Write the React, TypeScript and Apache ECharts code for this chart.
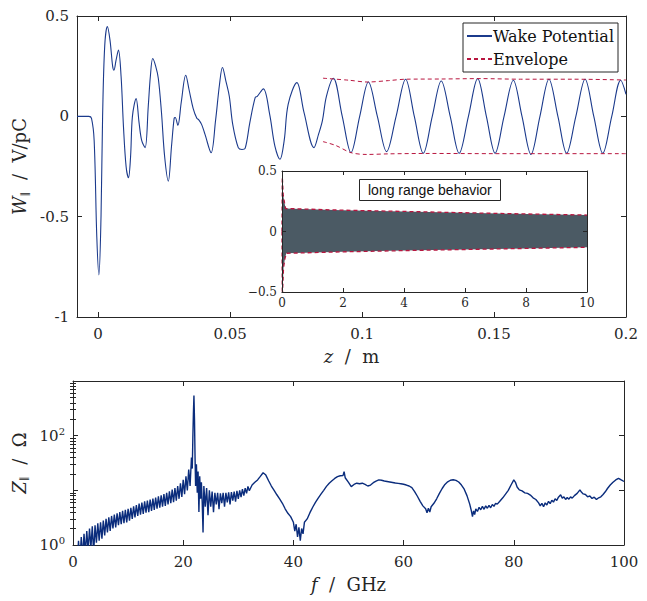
import React, { useEffect, useRef } from "react";
import * as echarts from "echarts";

// ---- Wake potential (z in m, W in V/pC) ----
const wakeEarly: [number, number][] = [
  [-0.008, 0], [-0.0035, 0], [-0.0025, -0.01], [-0.0015, -0.12], [-0.0005, -0.6],
  [0.0003, -0.79], [0.0011, -0.5], [0.0017, 0], [0.0025, 0.35], [0.0035, 0.447],
  [0.0045, 0.38], [0.0055, 0.25], [0.006, 0.23], [0.0068, 0.28], [0.0077, 0.33],
  [0.0087, 0.2], [0.0096, -0.05], [0.0106, -0.25], [0.0115, -0.306], [0.0123, -0.2],
  [0.013, 0], [0.0144, 0.088], [0.0155, -0.03], [0.0165, -0.12], [0.0178, -0.156],
  [0.019, 0.05], [0.0198, 0.2], [0.0207, 0.288], [0.0218, 0.25], [0.0228, 0.19],
  [0.024, 0.02], [0.0252, -0.2], [0.0266, -0.323], [0.0278, -0.15], [0.0288, -0.01],
  [0.0292, -0.006], [0.0302, -0.045], [0.0315, 0.07], [0.0332, 0.205], [0.0345, 0.13],
  [0.036, 0.04], [0.0374, -0.01], [0.038, -0.015], [0.0392, -0.04], [0.0405, -0.09],
  [0.0428, -0.181], [0.0445, -0.02], [0.046, 0.16], [0.0471, 0.243], [0.0485, 0.17],
  [0.0497, 0.1], [0.051, -0.04], [0.0531, -0.156], [0.0545, -0.165], [0.0557, -0.16],
  [0.0575, -0.03], [0.0595, 0.093], [0.0603, 0.1], [0.0626, 0.137], [0.065, 0.01],
  [0.067, -0.15], [0.0689, -0.214], [0.0705, -0.12], [0.072, 0.06], [0.0753, 0.168],
  [0.078, 0.02], [0.0818, -0.156], [0.0835, -0.09], [0.085, -0.02], [0.0865, 0.1],
];
const wakeLate: [number, number][] = [
  [0.0891, 0.19], [0.0925, 0], [0.0958, -0.181], [0.0991, 0], [0.1024, 0.171],
  [0.1058, 0], [0.1093, -0.176], [0.1129, 0], [0.1165, 0.185], [0.1198, 0],
  [0.1232, -0.184], [0.1266, 0], [0.13, 0.176], [0.1334, 0], [0.1368, -0.184],
  [0.1403, 0], [0.1438, 0.188], [0.1471, 0], [0.1504, -0.184], [0.1538, 0],
  [0.1573, 0.18], [0.1606, 0], [0.164, -0.19], [0.1674, 0], [0.1708, 0.185],
  [0.1742, 0], [0.1775, -0.184], [0.181, 0], [0.1845, 0.185], [0.1878, 0],
  [0.1912, -0.184], [0.1946, 0], [0.198, 0.18], [0.2, 0.11],
];
const envUpper: [number, number][] = [
  [0.0852, 0.19], [0.095, 0.18], [0.102, 0.171], [0.11, 0.178], [0.1165, 0.185],
  [0.13, 0.186], [0.145, 0.188], [0.16, 0.185], [0.18, 0.185], [0.2, 0.181],
];
const envLower: [number, number][] = [
  [0.0852, -0.126], [0.09, -0.145], [0.0958, -0.181], [0.1018, -0.19], [0.11, -0.187],
  [0.125, -0.185], [0.15, -0.186], [0.175, -0.186], [0.2, -0.186],
];
// ---- Long-range envelope (inset, z in m) ----
const longUpper: [number, number][] = [
  [0, 0], [0.01, 0.45], [0.04, 0.3], [0.08, 0.24], [0.12, 0.19],
  [2, 0.176], [4, 0.166], [6, 0.155], [8, 0.145], [10, 0.136],
];
const longLower: [number, number][] = [
  [0, 0], [0.01, -0.55], [0.05, -0.3], [0.1, -0.22], [0.14, -0.18],
  [2, -0.168], [4, -0.158], [6, -0.149], [8, -0.14], [10, -0.131],
];
// ---- Impedance (f in GHz, |Z| in Ohm) ----
const impedanceLow: [number, number][] = [
  [0.8, 0.5], [1.0, 1.2], [1.25, 0.5], [1.5, 1.4], [1.75, 0.6], [2.0, 1.6], [2.25, 0.7],
  [2.5, 1.8], [2.75, 0.8], [3.0, 2.0], [3.25, 0.9], [3.5, 2.2], [3.75, 0.7], [4.0, 2.3],
  [4.25, 1.1], [4.5, 2.5], [4.75, 1.2], [5.0, 2.6], [5.25, 1.3], [5.5, 2.8], [5.75, 1.5],
  [6.0, 3.0], [6.25, 1.7], [6.5, 3.2], [6.75, 1.8], [7.0, 3.4], [7.25, 2.0], [7.5, 3.6],
  [7.75, 2.1], [8.0, 3.8], [8.25, 2.3], [8.5, 4.0], [8.75, 2.4], [9.0, 4.2], [9.25, 2.5],
  [9.5, 4.4], [9.75, 2.6], [10.0, 4.6], [10.25, 2.8], [10.5, 4.8], [10.75, 3.0], [11.0, 5.1],
  [11.25, 3.2], [11.5, 5.4], [11.75, 3.4], [12.0, 5.7], [12.25, 3.6], [12.5, 6.0], [12.75, 3.7],
  [13.0, 6.3], [13.25, 3.9], [13.5, 6.5], [13.75, 4.0], [14.0, 6.8], [14.25, 4.2], [14.5, 7.1],
  [14.75, 4.4], [15.0, 7.4], [15.25, 4.6], [15.5, 7.8], [15.75, 4.8], [16.0, 8.1], [16.25, 5.0],
  [16.5, 8.5], [16.75, 5.2], [17.0, 9.0], [17.25, 5.5], [17.5, 9.6], [17.75, 5.8], [18.0, 10.3],
  [18.25, 6.1], [18.5, 11.0], [18.75, 6.5], [19.0, 12.0], [19.25, 7.0], [19.5, 13.5], [19.75, 7.6],
  [20.0, 15.5], [20.25, 8.5], [20.5, 18], [20.75, 10], [21.0, 24], [21.25, 12], [21.5, 40],
  [21.65, 25], [21.75, 90], [21.85, 250], [21.95, 540], [22.05, 200], [22.15, 40], [22.25, 12],
  [22.4, 30], [22.55, 9], [22.7, 22], [22.85, 4], [23.0, 18], [23.15, 7], [23.3, 14], [23.45, 6],
  [23.6, 1.7], [23.75, 12], [24.0, 5], [24.25, 11], [24.5, 3.5], [24.75, 10], [25.0, 5],
  [25.25, 9.5], [25.5, 4], [25.75, 9], [26.0, 5.5], [26.25, 9], [26.5, 4.5], [26.75, 8.8],
  [27.0, 5.8], [27.25, 9], [27.5, 5], [27.75, 9], [28.0, 6], [28.25, 9.2], [28.5, 5.5],
  [28.75, 9.3], [29.0, 6.5], [29.25, 9.5], [29.5, 6.2], [29.75, 9.8], [30.0, 7], [30.25, 10],
  [30.5, 7.5], [30.75, 10.5], [31.0, 8], [31.25, 11], [31.5, 8.8], [31.75, 11.8], [32.0, 9.8],
  [32.5, 12.5], [33.0, 14],
];
const impedanceHigh: [number, number][] = [
  [33.5, 15.5], [34.0, 18], [34.5, 21], [35.0, 19], [35.5, 15], [36.0, 12], [36.5, 10],
  [37.0, 8.3], [37.5, 7.0], [38.0, 5.8], [38.5, 4.6], [39.0, 3.8], [39.5, 3.3], [40.0, 2.6],
  [40.25, 1.8], [40.5, 2.4], [40.75, 1.4], [41.0, 2.1], [41.25, 1.2], [41.5, 2.0], [41.75, 1.6],
  [42.0, 2.6], [42.5, 3.0], [43.0, 3.9], [43.5, 4.9], [44.0, 6.0], [44.5, 7.2], [45.0, 8.5],
  [45.5, 10], [46.0, 11.8], [46.5, 13.5], [47.0, 15], [47.5, 16.5], [48.0, 17.8], [48.5, 18.5],
  [49.0, 18.6], [49.2, 22], [49.4, 17], [50.0, 14], [50.5, 11.7], [51.0, 12.8], [51.5, 13.5],
  [52.0, 13.2], [52.5, 13.5], [53.0, 12.8], [53.5, 12], [54.0, 12.5], [54.5, 13.8], [55.0, 14.8],
  [55.5, 15.5], [56.0, 15.3], [56.5, 14.8], [57.0, 14.5], [57.5, 14.2], [58.0, 13.9], [58.5, 13.6],
  [59.0, 13.4], [59.5, 13.2], [60.0, 12.9], [60.5, 12.5], [61.0, 12], [61.5, 11.2], [62.0, 9.5],
  [62.5, 7.8], [63.0, 6.3], [63.5, 5.2], [64.0, 4.6], [64.25, 3.9], [64.5, 4.7], [64.75, 4.0],
  [65.0, 5.0], [65.5, 5.8], [66.0, 7.0], [66.5, 8.8], [67.0, 10.8], [67.5, 12.8], [68.0, 14.3],
  [68.5, 15.3], [69.0, 15.6], [69.5, 15.2], [70.0, 14.2], [70.5, 12.5], [71.0, 10.5], [71.5, 8.0],
  [72.0, 5.6], [72.3, 4.2], [72.5, 3.3], [72.7, 4.2], [72.9, 3.6], [73.1, 4.6], [73.4, 4.1],
  [73.7, 4.9], [74.0, 4.4], [74.3, 5.1], [74.6, 4.5], [74.9, 5.2], [75.2, 4.7], [75.5, 5.3],
  [75.8, 4.8], [76.1, 5.5], [76.4, 5.1], [76.7, 5.8], [77.0, 5.6], [77.5, 6.4], [78.0, 7.3],
  [78.5, 8.5], [79.0, 10], [79.5, 12.5], [80.0, 15.5], [80.3, 14], [80.6, 11.5], [81.0, 10.2],
  [81.5, 9.8], [82.0, 9.0], [82.5, 8.8], [83.0, 8.2], [83.5, 7.3], [84.0, 6.8], [84.5, 5.9],
  [84.8, 5.2], [85.1, 5.8], [85.4, 5.0], [85.7, 5.9], [86.0, 5.4], [86.3, 6.3], [86.6, 5.7],
  [86.9, 6.6], [87.2, 6.1], [87.5, 7.0], [87.8, 6.5], [88.1, 7.5], [88.5, 8.3], [88.8, 7.2],
  [89.1, 7.6], [89.4, 6.8], [89.7, 7.4], [90.0, 6.9], [90.3, 7.6], [90.6, 7.2], [91.0, 8.0],
  [91.5, 8.8], [92.0, 10.2], [92.3, 9.2], [92.6, 8.6], [93.0, 8.4], [93.4, 7.6], [93.8, 7.9],
  [94.2, 7.1], [94.6, 7.5], [95.0, 6.8], [95.4, 7.3], [95.8, 7.6], [96.2, 8.4], [96.6, 9.4],
  [97.0, 10.8], [97.5, 12.5], [98.0, 14], [98.5, 15.5], [99.0, 16.6], [99.5, 15.5], [100, 14.5],
];
// ---- Ticks ----
const zTicks = [0, 0.05, 0.1, 0.15, 0.2];
const logMajor = [1, 10, 100, 1000];
const logLabels = [1, 100];
const logMinor = [2, 3, 4, 5, 6, 7, 8, 9, 20, 30, 40, 50, 60, 70, 80, 90, 200, 300, 400, 500, 600, 700, 800, 900];

const INK = "#262626";
const SERIF = "DejaVu Serif";
const WAKE_COLOR = "#1b3a8c";
const ENV_COLOR = "#b8163f";
const BAND_COLOR = "#4b5a64";
const IMP_COLOR = "#0a2c7c";

const tickLabel = { color: INK, fontFamily: SERIF, fontSize: 15 };
const nameRich = {
  i: { fontFamily: SERIF, fontStyle: "italic", fontSize: 18, color: INK },
  r: { fontFamily: SERIF, fontSize: 18, color: INK },
  sub: { fontFamily: "DejaVu Sans", fontSize: 10, color: INK, padding: [9, 0, 0, 0] },
};
const lineAx = { show: true, onZero: false, lineStyle: { color: INK, width: 1 } };

function mirrorX(gridIndex: number, min: number, max: number, extra: any = {}) {
  return {
    type: "value", gridIndex, position: "top", min, max,
    axisLine: lineAx, axisLabel: { show: false }, splitLine: { show: false },
    axisTick: { inside: true, length: 5, lineStyle: { color: INK } }, ...extra,
  };
}

export default function App() {
  const ref = useRef<HTMLDivElement>(null);
  useEffect(() => {
    document.body.style.margin = "0";
    const chart = echarts.init(ref.current!, undefined, { renderer: "svg" });
    const logFmt = (v: number) => `{b|10}{s|${Math.round(Math.log10(v))}}`;
    const logRich = {
      b: { fontFamily: SERIF, fontSize: 15, color: INK },
      s: { fontFamily: SERIF, fontSize: 10, color: INK, padding: [0, 0, 9, 0] },
    };
    const option: any = {
      animation: false,
      backgroundColor: "#fff",
      title: {
        text: "long range behavior",
        left: 359, top: 179,
        padding: [4, 9, 4, 9],
        borderColor: INK, borderWidth: 1, backgroundColor: "#fff",
        textStyle: { fontFamily: "Liberation Sans", fontSize: 14, fontWeight: "normal", color: "#111" },
      },
      legend: {
        data: ["Wake Potential", "Envelope"],
        orient: "vertical", left: 463, top: 23,
        itemWidth: 25, itemHeight: 10, itemGap: 7,
        padding: [5, 4, 5, 3],
        borderColor: INK, borderWidth: 1, backgroundColor: "#fff",
        itemStyle: { opacity: 0 },
        selectedMode: false,
        textStyle: { fontFamily: SERIF, fontSize: 16, color: "#111", padding: [0, 0, 0, -4] },
      },
      grid: [
        { left: 77, top: 16, width: 549, height: 301 },
        { left: 282, top: 171, width: 305, height: 121, show: true, backgroundColor: "#fff", borderWidth: 0, z: 3 },
        { left: 73, top: 381, width: 551, height: 164 },
      ],
      xAxis: [
        {
          type: "value", gridIndex: 0, position: "bottom", min: -0.008, max: 0.2,
          axisLine: lineAx, splitLine: { show: false },
          axisTick: { inside: true, length: 5, customValues: zTicks, lineStyle: { color: INK } },
          axisLabel: { ...tickLabel, customValues: zTicks, margin: 9, formatter: (v: number) => String(v) },
          name: "{i|z}{r|  /  m}", nameLocation: "middle", nameGap: 30,
          nameTextStyle: { rich: nameRich },
        },
        mirrorX(0, -0.008, 0.2, { axisTick: { inside: true, length: 5, customValues: zTicks, lineStyle: { color: INK } } }),
        {
          type: "value", gridIndex: 1, position: "bottom", min: 0, max: 10, interval: 2,
          axisLine: lineAx, splitLine: { show: false },
          axisTick: { inside: true, length: 4, lineStyle: { color: INK } },
          axisLabel: { ...tickLabel, fontSize: 12, margin: 5 },
          z: 8,
        },
        mirrorX(1, 0, 10, { interval: 2, z: 8, axisTick: { inside: true, length: 4, lineStyle: { color: INK } } }),
        {
          type: "value", gridIndex: 2, position: "bottom", min: 0, max: 100, interval: 20,
          axisLine: lineAx, splitLine: { show: false },
          axisTick: { inside: true, length: 5, lineStyle: { color: INK } },
          axisLabel: { ...tickLabel, margin: 9 },
          name: "{i|f}{r|  /  GHz}", nameLocation: "middle", nameGap: 30,
          nameTextStyle: { rich: nameRich },
        },
        mirrorX(2, 0, 100, { interval: 20 }),
      ],
      yAxis: [
        {
          type: "value", gridIndex: 0, position: "left", min: -1, max: 0.5, interval: 0.5,
          axisLine: lineAx, splitLine: { show: false },
          axisTick: { inside: true, length: 5, lineStyle: { color: INK } },
          axisLabel: { ...tickLabel, margin: 8 },
          name: "{i|W}{sub|∥}{r|  /  V/pC}", nameLocation: "middle", nameRotate: 90, nameGap: 37,
          nameTextStyle: { rich: nameRich },
        },
        {
          type: "value", gridIndex: 0, position: "right", min: -1, max: 0.5, interval: 0.5,
          axisLine: lineAx, splitLine: { show: false }, axisLabel: { show: false },
          axisTick: { inside: true, length: 5, lineStyle: { color: INK } },
        },
        {
          type: "value", gridIndex: 1, position: "left", min: -0.5, max: 0.5, interval: 0.5,
          axisLine: lineAx, splitLine: { show: false }, z: 8,
          axisTick: { inside: true, length: 4, lineStyle: { color: INK } },
          axisLabel: {
            ...tickLabel, fontSize: 12, margin: 5,
            formatter: (v: number) => (v < 0 ? "\u2212" + Math.abs(v) : String(v)),
          },
        },
        {
          type: "value", gridIndex: 1, position: "right", min: -0.5, max: 0.5, interval: 0.5, z: 8,
          axisLine: lineAx, splitLine: { show: false }, axisLabel: { show: false },
          axisTick: { inside: true, length: 4, lineStyle: { color: INK } },
        },
        {
          type: "log", logBase: 10, gridIndex: 2, position: "left", min: 1, max: 1000,
          axisLine: lineAx, splitLine: { show: false },
          axisTick: { inside: true, length: 5, customValues: logMajor, lineStyle: { color: INK } },
          axisLabel: { customValues: logLabels, margin: 8, formatter: logFmt, rich: logRich },
          name: "{i|Z}{sub|∥}{r|  /  Ω}", nameLocation: "middle", nameRotate: 90, nameGap: 32,
          nameTextStyle: { rich: nameRich },
        },
        {
          type: "log", logBase: 10, gridIndex: 2, position: "left", min: 1, max: 1000,
          axisLine: { show: false }, splitLine: { show: false }, axisLabel: { show: false },
          axisTick: { inside: true, length: 3, customValues: logMinor, lineStyle: { color: INK } },
        },
        {
          type: "log", logBase: 10, gridIndex: 2, position: "right", min: 1, max: 1000,
          axisLine: lineAx, splitLine: { show: false }, axisLabel: { show: false },
          axisTick: { inside: true, length: 5, customValues: logMajor, lineStyle: { color: INK } },
        },
        {
          type: "log", logBase: 10, gridIndex: 2, position: "right", min: 1, max: 1000,
          axisLine: { show: false }, splitLine: { show: false }, axisLabel: { show: false },
          axisTick: { inside: true, length: 3, customValues: logMinor, lineStyle: { color: INK } },
        },
      ],
      series: [
        {
          name: "Wake Potential", type: "line", xAxisIndex: 0, yAxisIndex: 0,
          data: [...wakeEarly, ...wakeLate], smooth: 0.35, symbol: "none",
          lineStyle: { color: WAKE_COLOR, width: 1.1 }, itemStyle: { color: WAKE_COLOR },
        },
        {
          name: "Envelope", type: "line", xAxisIndex: 0, yAxisIndex: 0,
          data: envUpper, smooth: 0.3, symbol: "none",
          lineStyle: { color: ENV_COLOR, width: 1, type: [4, 3] }, itemStyle: { color: ENV_COLOR },
        },
        {
          name: "Envelope", type: "line", xAxisIndex: 0, yAxisIndex: 0,
          data: envLower, smooth: 0.3, symbol: "none",
          lineStyle: { color: ENV_COLOR, width: 1, type: [4, 3] }, itemStyle: { color: ENV_COLOR },
        },
        {
          name: "long-upper", type: "line", xAxisIndex: 2, yAxisIndex: 2, z: 5,
          data: longUpper, symbol: "none",
          lineStyle: { color: ENV_COLOR, width: 1.3, type: [4, 3] },
          areaStyle: { color: BAND_COLOR, opacity: 1, origin: "start" },
        },
        {
          name: "long-lower", type: "line", xAxisIndex: 2, yAxisIndex: 2, z: 6,
          data: longLower, symbol: "none",
          lineStyle: { color: ENV_COLOR, width: 1.3, type: [4, 3] },
          areaStyle: { color: "#ffffff", opacity: 1, origin: "start" },
        },
        {
          name: "Impedance", type: "line", xAxisIndex: 4, yAxisIndex: 4,
          data: [...impedanceLow, ...impedanceHigh], symbol: "none",
          lineStyle: { color: IMP_COLOR, width: 1.4 },
        },
      ],
    };
    chart.setOption(option);
    return () => chart.dispose();
  }, []);
  return <div ref={ref} style={{ width: 647, height: 601 }} />;
}
